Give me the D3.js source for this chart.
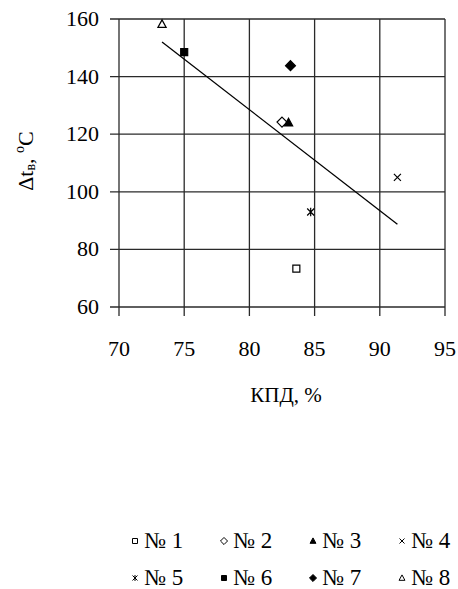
<!DOCTYPE html>
<html>
<head>
<meta charset="utf-8">
<script src="https://cdn.jsdelivr.net/npm/d3@7"></script>
<style>
  body { margin: 0; background: #fff; font-family: "Liberation Serif", "Times New Roman", serif; }
  svg, svg text, svg tspan { font-family: "Liberation Serif", "Times New Roman", serif !important; }
</style>
</head>
<body>
<div id="chart"></div>
<script>
// data
const seriesNames = ['№ 1', '№ 2', '№ 3', '№ 4', '№ 5', '№ 6', '№ 7', '№ 8'];
const kpd = [83.6, 82.5, 83.0, 91.35, 84.7, 75.0, 83.15, 73.3];
const dt = [73.3, 124.2, 124.0, 105.0, 93.0, 148.5, 143.8, 158.2];
const xTicks = [70, 75, 80, 85, 90, 95];
const yTicks = [60, 80, 100, 120, 140, 160];

const WIDTH = 458;
const HEIGHT = 589;
const LEFT = 119, RIGHT = 445, TOP = 19, BOTTOM = 307;
const GRID = '#2a2a2a';
const FONT = '"Liberation Serif"';

// marker shapes
const rhombus = {
    draw(ctx, size) {
        const r = Math.sqrt(size / 2);
        ctx.moveTo(0, -r); ctx.lineTo(r, 0); ctx.lineTo(0, r); ctx.lineTo(-r, 0); ctx.closePath();
    }
};
const tri = {
    draw(ctx, size) {
        const r = Math.sqrt(size) * 0.62;
        ctx.moveTo(0, -r); ctx.lineTo(r * 0.95, r * 0.75); ctx.lineTo(-r * 0.95, r * 0.75); ctx.closePath();
    }
};
const cross = {
    draw(ctx, size) {
        const r = Math.sqrt(size) / 2;
        ctx.moveTo(-r, -r); ctx.lineTo(r, r); ctx.moveTo(r, -r); ctx.lineTo(-r, r);
    }
};
const star = {
    draw(ctx, size) {
        const r = Math.sqrt(size) / 2;
        ctx.moveTo(-r, -r); ctx.lineTo(r, r); ctx.moveTo(r, -r); ctx.lineTo(-r, r);
        ctx.moveTo(0, -r * 1.2); ctx.lineTo(0, r * 1.2);
    }
};
const markers = [
    { type: d3.symbolSquare, fill: '#fff', stroke: '#000' },
    { type: rhombus, fill: '#fff', stroke: '#000' },
    { type: tri, fill: '#000', stroke: '#000' },
    { type: cross, fill: 'none', stroke: '#000' },
    { type: star, fill: 'none', stroke: '#000' },
    { type: d3.symbolSquare, fill: '#000', stroke: '#000' },
    { type: rhombus, fill: '#000', stroke: '#000' },
    { type: tri, fill: '#fff', stroke: '#000' }
];

const svg = d3.select('#chart')
    .append('svg')
    .attr('width', WIDTH)
    .attr('height', HEIGHT);

const x = d3.scaleLinear().domain([70, 95]).range([LEFT, RIGHT]);
const y = d3.scaleLinear().domain([60, 160]).range([BOTTOM, TOP]);

// grid lines with outward ticks
svg.selectAll('line.h')
    .data(yTicks)
    .enter()
    .append('line')
    .attr('x1', LEFT - 9)
    .attr('x2', RIGHT)
    .attr('y1', d => y(d))
    .attr('y2', d => y(d))
    .attr('stroke', GRID)
    .attr('stroke-width', 1.3);

svg.selectAll('line.v')
    .data(xTicks)
    .enter()
    .append('line')
    .attr('x1', d => x(d))
    .attr('x2', d => x(d))
    .attr('y1', TOP)
    .attr('y2', BOTTOM + 9)
    .attr('stroke', GRID)
    .attr('stroke-width', 1.3);

// tick labels
svg.selectAll('text.yt')
    .data(yTicks)
    .enter()
    .append('text')
    .text(d => d)
    .attr('x', LEFT - 20)
    .attr('y', d => y(d) + 7)
    .attr('text-anchor', 'end')
    .style('font-family', FONT)
    .style('font-size', '22px');

svg.selectAll('text.xt')
    .data(xTicks)
    .enter()
    .append('text')
    .text(d => d)
    .attr('x', d => x(d))
    .attr('y', 356)
    .attr('text-anchor', 'middle')
    .style('font-family', FONT)
    .style('font-size', '22px');

// axis titles
svg.append('text')
    .text('КПД, %')
    .attr('x', 286)
    .attr('y', 402)
    .attr('text-anchor', 'middle')
    .style('font-family', FONT)
    .style('font-size', '21px');

const yl = svg.append('text')
    .attr('transform', 'translate(33,161) rotate(-90)')
    .attr('text-anchor', 'middle')
    .style('font-family', FONT)
    .style('font-size', '22px');
yl.append('tspan').text('Δt');
yl.append('tspan').text('в').style('font-size', '14px').attr('dy', 2);
yl.append('tspan').text(', ').attr('dy', -2);
yl.append('tspan').text('o').style('font-size', '14px').attr('dy', -9);
yl.append('tspan').text('C').attr('dy', 9);

// linear trend over all points
const mx = d3.mean(kpd), my = d3.mean(dt);
const slope = d3.sum(kpd, (v, i) => (v - mx) * (dt[i] - my)) / d3.sum(kpd, v => (v - mx) * (v - mx));
const [x0, x1] = d3.extent(kpd);
svg.append('line')
    .attr('x1', x(x0))
    .attr('y1', y(my + slope * (x0 - mx)))
    .attr('x2', x(x1))
    .attr('y2', y(my + slope * (x1 - mx)))
    .attr('stroke', '#000')
    .attr('stroke-width', 1.3);

// points
svg.selectAll('path.pt')
    .data(kpd)
    .enter()
    .append('path')
    .attr('transform', (d, i) => `translate(${x(d)},${y(dt[i])})`)
    .attr('d', (d, i) => d3.symbol(markers[i].type, 49)())
    .attr('fill', (d, i) => markers[i].fill)
    .attr('stroke', (d, i) => markers[i].stroke)
    .attr('stroke-width', 1.2);

// legend, 4 per row
const legend = svg.selectAll('g.lg')
    .data(seriesNames)
    .enter()
    .append('g')
    .attr('transform', (d, i) => `translate(${135 + (i % 4) * 89},${541 + Math.floor(i / 4) * 37})`);

legend.append('path')
    .attr('d', (d, i) => d3.symbol(markers[i].type, 25)())
    .attr('fill', (d, i) => markers[i].fill)
    .attr('stroke', (d, i) => markers[i].stroke)
    .attr('stroke-width', 1);

legend.append('text')
    .text(d => d)
    .attr('x', 9)
    .attr('y', 7)
    .style('font-family', FONT)
    .style('font-size', '23px');
</script>
</body>
</html>
